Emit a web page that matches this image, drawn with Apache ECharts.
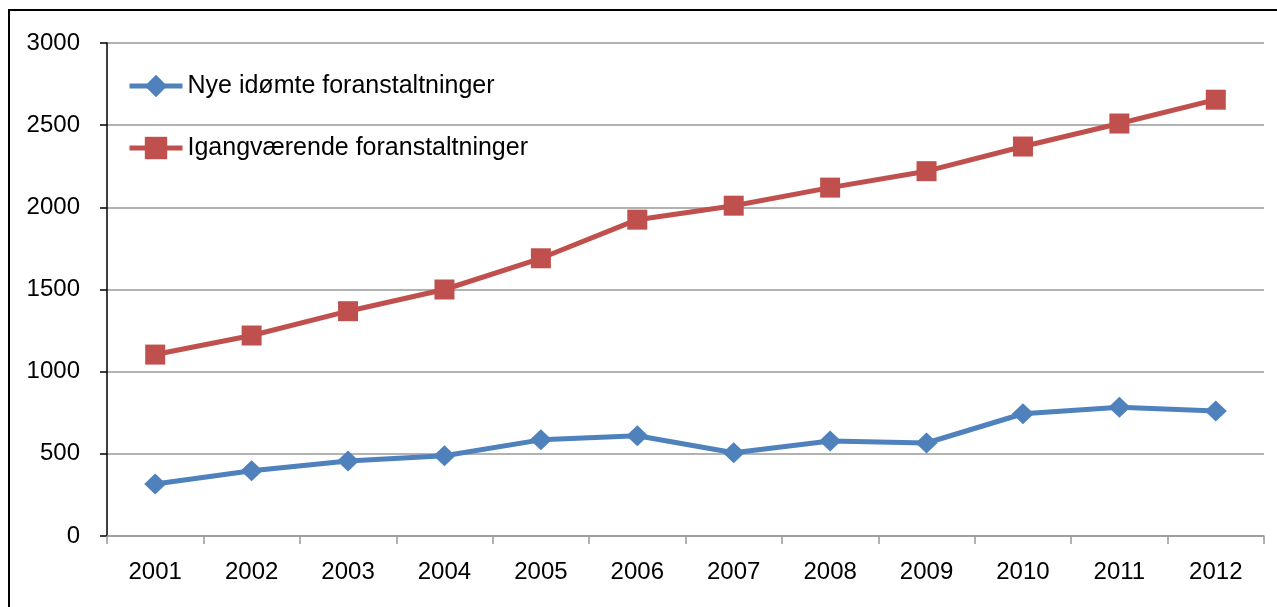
<!DOCTYPE html>
<html>
<head>
<meta charset="utf-8">
<script src="https://cdn.jsdelivr.net/npm/echarts@6/dist/echarts.min.js"></script>
<style>
  html, body { margin: 0; padding: 0; background: #fff; }
  #frame { position: absolute; left: 8px; top: 9px; width: 1290px; height: 640px; border: 2px solid #000; }
  #chart { position: absolute; left: 0; top: 0; width: 1277px; height: 607px; }
</style>
</head>
<body>
<div id="frame"></div>
<div id="chart"></div>
<script>
const years = ['2001', '2002', '2003', '2004', '2005', '2006', '2007', '2008', '2009', '2010', '2011', '2012']
const nyeIdomte = [317, 397, 456, 488, 585, 610, 507, 578, 566, 744, 783, 760]
const igangvaerende = [1104, 1220, 1368, 1500, 1690, 1925, 2010, 2120, 2220, 2370, 2510, 2655]
const yTicks = { min: 0, max: 3000, interval: 500 }

const font = '"Liberation Sans", Arial, sans-serif'
const blue = '#4F81BD'
const red = '#C0504D'

const chart = echarts.init(document.getElementById('chart'))

chart.setOption({
  animation: false,
  backgroundColor: 'transparent',
  grid: { left: 107, right: 13, top: 43, bottom: 71 },
  legend: {
    orient: 'vertical',
    left: 122,
    top: 67,
    itemWidth: 53,
    itemHeight: 28,
    itemGap: 34,
    textStyle: { fontFamily: font, fontSize: 25, color: '#000', lineHeight: 28 },
    data: [
      { name: 'Nye idømte foranstaltninger', lineStyle: { width: 5 } },
      { name: 'Igangværende foranstaltninger', lineStyle: { width: 5 } },
    ],
  },
  xAxis: {
    type: 'category',
    data: years,
    boundaryGap: true,
    axisLine: { lineStyle: { color: '#999', width: 1.5 } },
    axisTick: { show: true, interval: 0, length: 8, lineStyle: { color: '#999', width: 1.5 } },
    axisLabel: { fontFamily: font, fontSize: 24, color: '#000', margin: 24, interval: 0 },
  },
  yAxis: {
    type: 'value',
    min: yTicks.min,
    max: yTicks.max,
    interval: yTicks.interval,
    axisLine: { show: true, lineStyle: { color: '#000', width: 1.5 } },
    axisTick: { show: true, length: 7, lineStyle: { color: '#000', width: 1.5 } },
    axisLabel: { fontFamily: font, fontSize: 24, color: '#000', margin: 27, formatter: v => String(v) },
    splitLine: { lineStyle: { color: '#999', width: 1.5 } },
  },
  series: [
    {
      name: 'Nye idømte foranstaltninger',
      type: 'line',
      data: nyeIdomte,
      symbol: 'diamond',
      symbolSize: [22, 21],
      lineStyle: { color: blue, width: 5 },
      itemStyle: { color: blue },
    },
    {
      name: 'Igangværende foranstaltninger',
      type: 'line',
      data: igangvaerende,
      symbol: 'rect',
      symbolSize: 20,
      lineStyle: { color: red, width: 5 },
      itemStyle: { color: red },
    },
  ],
})

window.addEventListener('resize', () => chart.resize())
</script>
</body>
</html>
